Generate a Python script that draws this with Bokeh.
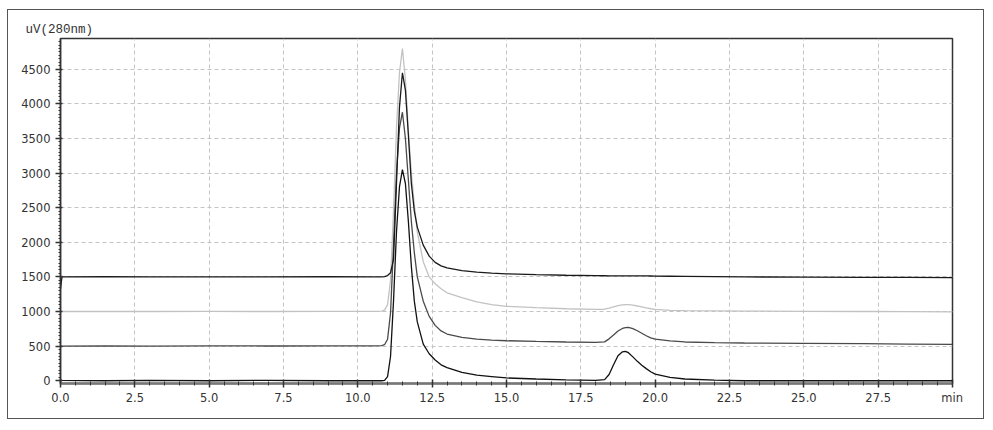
from bokeh.plotting import figure
from bokeh.models import Range1d, FixedTicker, Title, ColumnDataSource
from bokeh.embed import file_html
from bokeh.resources import INLINE

# ---- data ----
time_min = [0.0, 0.05, 1.5, 3.0, 5.0, 7.0, 9.0, 10.5, 10.8, 10.9, 11.0, 11.1, 11.2, 11.3,
            11.4, 11.5, 11.6, 11.7, 11.8, 11.9, 12.0, 12.2, 12.4, 12.6, 12.8, 13.0, 13.5,
            14.0, 14.5, 15.0, 16.0, 17.0, 18.0, 18.3, 18.45, 18.6, 18.75, 18.9, 19.0, 19.1,
            19.25, 19.4, 19.55, 19.7, 19.85, 20.0, 20.5, 21.0, 22.0, 23.0, 25.0, 27.0, 28.5,
            30.0]

# trace offset 1500 (black)
trace_a = [1330, 1500, 1505, 1500, 1502, 1500, 1503, 1500, 1500, 1505, 1520, 1560, 1750, 2850,
           3950, 4450, 4200, 3550, 2850, 2450, 2220, 1960, 1800, 1710, 1660, 1630, 1590,
           1570, 1555, 1545, 1532, 1524, 1518, 1517, 1516, 1516, 1516, 1516, 1515, 1515,
           1515, 1515, 1514, 1514, 1513, 1512, 1510, 1508, 1505, 1500, 1497, 1494, 1492,
           1490]
# trace offset 1000 (light grey)
trace_b = [1000, 1000, 1002, 1000, 1001, 1000, 1002, 1002, 1005, 1020, 1100, 1450, 2450, 3650,
           4450, 4800, 4350, 3600, 3000, 2550, 2150, 1720, 1500, 1400, 1330, 1270, 1200,
           1140, 1100, 1075, 1055, 1040, 1030, 1033, 1048, 1066, 1084, 1096, 1100, 1100,
           1092, 1080, 1066, 1052, 1040, 1030, 1018, 1012, 1008, 1005, 1003, 1000, 998,
           995]
# trace offset 500 (dark grey)
trace_c = [500, 500, 503, 500, 504, 502, 505, 505, 507, 520, 600, 980, 1950, 3000,
           3650, 3880, 3500, 2900, 2300, 1850, 1500, 1150, 930, 800, 720, 675, 625,
           600, 588, 578, 568, 560, 555, 562, 605, 662, 718, 755, 768, 770,
           752, 722, 686, 650, 620, 600, 575, 560, 550, 545, 540, 535, 530,
           525]
# trace offset 0 (black)
trace_d = [10, 5, 0, 5, 0, 5, 0, 0, 0, 5, 60, 350, 1150, 2150,
           2800, 3050, 2850, 2300, 1650, 1150, 850, 530, 390, 300, 230, 190, 120,
           80, 60, 40, 25, 12, 5, 15, 90, 230, 360, 418, 425, 405,
           345, 280, 225, 175, 130, 96, 48, 25, 10, 0, 0, 0, 0,
           0]

x_ticks = [0.0, 2.5, 5.0, 7.5, 10.0, 12.5, 15.0, 17.5, 20.0, 22.5, 25.0, 27.5]
x_tick_labels = ["0.0", "2.5", "5.0", "7.5", "10.0", "12.5", "15.0", "17.5", "20.0",
                 "22.5", "25.0", "27.5"]
x_unit_pos = 29.99
x_unit_label = "min"
y_ticks = [0, 500, 1000, 1500, 2000, 2500, 3000, 3500, 4000, 4500]
y_tick_labels = ["0", "500", "1000", "1500", "2000", "2500", "3000", "3500", "4000", "4500"]
y_unit_label = "uV(280nm)"

src = ColumnDataSource(dict(t=time_min, a=trace_a, b=trace_b, c=trace_c, d=trace_d))

p = figure(width=977, height=410,
           x_range=Range1d(0, 30), y_range=Range1d(-40, 4945),
           output_backend="svg", toolbar_location=None,
           min_border_left=52, min_border_top=28, min_border_right=33, min_border_bottom=37)
p.styles = {"border": "1px solid #555555", "margin-left": "7px", "margin-top": "9px"}
p.background_fill_color = "white"
p.border_fill_color = "white"
p.outline_line_color = "#333333"
p.outline_line_width = 1.5

# y unit caption as a left-aligned title
p.title = Title(text=y_unit_label, align="left", offset=-35, standoff=4,
                text_font="Liberation Mono", text_font_size="12.5px",
                text_font_style="normal", text_color="#333333")

# grid
for g in (p.xgrid, p.ygrid):
    g.grid_line_color = "#c4c4c4"
    g.grid_line_dash = "4 3"
    g.grid_line_width = 1
p.xgrid.ticker = FixedTicker(ticks=x_ticks)
p.ygrid.ticker = FixedTicker(ticks=y_ticks[1:])

# axes
p.xaxis.ticker = FixedTicker(ticks=x_ticks + [x_unit_pos],
                             minor_ticks=[i * 0.5 for i in range(61)])
p.yaxis.ticker = FixedTicker(ticks=y_ticks, minor_ticks=[i * 50 for i in range(0, 99)])
overrides = {t: l for t, l in zip(x_ticks, x_tick_labels)}
overrides[x_unit_pos] = x_unit_label
p.xaxis.major_label_overrides = overrides
p.yaxis.major_label_overrides = {t: l for t, l in zip(y_ticks, y_tick_labels)}

for ax in (p.xaxis, p.yaxis):
    ax.axis_line_color = "#333333"
    ax.major_tick_line_color = "#333333"
    ax.minor_tick_line_color = "#333333"
    ax.major_label_text_font = "DejaVu Sans"
    ax.major_label_text_font_size = "11.5px"
    ax.major_label_text_color = "#333333"
p.xaxis.axis_line_width = 2.5
p.xaxis.axis_line_color = "#777777"
p.yaxis.axis_line_width = 1.5
p.xaxis.major_tick_in = 4
p.xaxis.major_tick_out = 4
p.xaxis.minor_tick_in = 2
p.xaxis.minor_tick_out = 2
p.xaxis.major_tick_line_width = 1.5
p.xaxis.major_label_standoff = 3
p.yaxis.major_tick_in = 2
p.yaxis.major_tick_out = 5
p.yaxis.minor_tick_in = 0
p.yaxis.minor_tick_out = 2
p.yaxis.major_tick_line_width = 1.5
p.yaxis.major_label_standoff = 5

# traces
p.line("t", "b", source=src, line_color="#c2c2c2", line_width=1.3)
p.line("t", "c", source=src, line_color="#4a4a4a", line_width=1.3)
p.line("t", "a", source=src, line_color="#1a1a1a", line_width=1.3)
p.line("t", "d", source=src, line_color="#111111", line_width=1.3)

open("out.html", "w").write(file_html(p, INLINE))
